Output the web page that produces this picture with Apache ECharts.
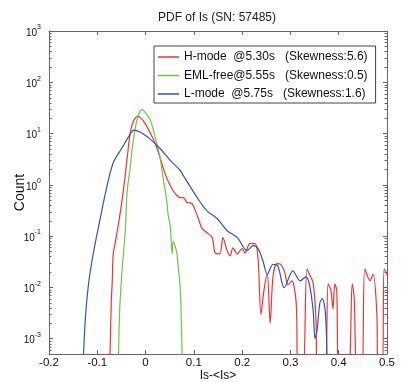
<!DOCTYPE html>
<html lang="en">
<head>
<meta charset="UTF-8">
<title>PDF of Is (SN: 57485)</title>
<script src="https://cdn.jsdelivr.net/npm/echarts@6/dist/echarts.min.js"></script>
<style>
    * { margin: 0; padding: 0; }
    body { background: #fff; }
    #paint { width: 401px; height: 382px; }
</style>
</head>
<body>
<div id="paint"></div>
<script>
    // legend names (spacing kept as in the figure)
    var seriesNames = [
        'H-mode  @5.30s   (Skewness:5.6)',
        'EML-free@5.55s   (Skewness:0.5)',
        'L-mode  @5.75s   (Skewness:1.6)'
    ];
    var seriesColors = ['#ee3333', '#6cc644', '#2f55b5'];

    // H-mode
    var hModeX = [-0.074, -0.073, -0.071, -0.069, -0.067, -0.061, -0.055, -0.046, -0.038, -0.032,
        -0.026, -0.017, -0.011, -0.001, 0.010, 0.020, 0.030, 0.040, 0.051, 0.061,
        0.072, 0.078, 0.086, 0.096, 0.107, 0.117, 0.127, 0.138, 0.144, 0.154,
        0.160, 0.169, 0.175, 0.181, 0.190, 0.200, 0.206, 0.216, 0.227, 0.233,
        0.239, 0.245, 0.252, 0.258, 0.264, 0.272, 0.280, 0.288, 0.295, 0.303,
        0.312, 0.316, 0.326, 0.334, 0.340, 0.347, 0.353, 0.355, 0.371, 0.378,
        0.384, 0.388, 0.392, 0.396, 0.400, 0.419, 0.428, 0.432, 0.438, 0.448,
        0.454, 0.465, 0.471, 0.479, 0.481, 0.490, 0.494, 0.500];
    var hModeY = [0.0004, 0.0009, 0.0053, 0.013, 0.044, 0.093, 0.20, 0.77, 3.4, 10.1,
        16.6, 21.7, 20.7, 15.8, 10.1, 6.4, 3.4, 1.67, 0.97, 0.68,
        0.56, 0.56, 0.45, 0.43, 0.25, 0.14, 0.117, 0.093, 0.047, 0.045,
        0.093, 0.052, 0.041, 0.059, 0.045, 0.057, 0.047, 0.071, 0.071, 0.036,
        0.0030, 0.0085, 0.018, 0.0020, 0.0168, 0.029, 0.028, 0.020, 0.0112, 0.0134,
        0.0048, 0.0002, 0.0002, 0.023, 0.0175, 0.0122, 0.0022, 0.0002, 0.0002, 0.0117,
        0.0085, 0.0038, 0.0117, 0.0085, 0.0002, 0.0002, 0.0117, 0.0063, 0.0002, 0.0002,
        0.023, 0.0134, 0.018, 0.0030, 0.0002, 0.0002, 0.023, 0.018];

    // EML-free
    var emlX = [-0.056, -0.055, -0.053, -0.048, -0.042, -0.038, -0.032, -0.028, -0.021, -0.015,
        -0.007, -0.001, 0.010, 0.020, 0.030, 0.036, 0.043, 0.047, 0.051, 0.053,
        0.055, 0.057, 0.061, 0.065, 0.067, 0.072, 0.074, 0.076];
    var emlY = [0.0004, 0.0014, 0.0048, 0.026, 0.127, 0.77, 2.1, 4.7, 13.2, 22.7,
        29.7, 26, 18.1, 8.4, 3.4, 1.39, 0.56, 0.25, 0.16, 0.081,
        0.045, 0.078, 0.065, 0.045, 0.029, 0.0087, 0.0022, 0.0004];

    // L-mode
    var lModeX = [-0.129, -0.125, -0.119, -0.111, -0.102, -0.092, -0.082, -0.067, -0.048, -0.036,
        -0.024, -0.015, -0.007, 0.010, 0.030, 0.051, 0.072, 0.078, 0.107, 0.127,
        0.148, 0.169, 0.190, 0.210, 0.223, 0.233, 0.243, 0.252, 0.264, 0.274,
        0.287, 0.305, 0.320, 0.332, 0.340, 0.347, 0.351, 0.355, 0.361, 0.366,
        0.372, 0.376];
    var lModeY = [0.0004, 0.0022, 0.0098, 0.033, 0.093, 0.27, 0.77, 2.7, 5.4, 8.4,
        11.6, 11.0, 10.1, 7.7, 5.1, 3.0, 1.9, 1.52, 0.56, 0.31,
        0.22, 0.127, 0.093, 0.052, 0.065, 0.057, 0.033, 0.018, 0.028, 0.026,
        0.0098, 0.021, 0.0134, 0.016, 0.0107, 0.0035, 0.0010, 0.0014, 0.0050, 0.0060,
        0.0035, 0.0004];

    // axes
    var xMin = -0.2, xMax = 0.5, xStep = 0.1;
    var yMin = 5e-4, yMax = 1e3;
    var minorMantissa = [2, 3, 4, 5, 6, 7, 8, 9];
    var decades = [-4, -3, -2, -1, 0, 1, 2];

    var font = 'Liberation Sans, Arial, sans-serif';
    var axisGrey = '#666';

    function pairs(xs, ys) {
        var out = [];
        for (var i = 0; i < xs.length; i++) out.push([xs[i], ys[i]]);
        return out;
    }

    var minorTicks = [];
    decades.forEach(function (d) {
        minorMantissa.forEach(function (m) {
            var v = m * Math.pow(10, d);
            if (v > yMin && v < yMax) minorTicks.push([0, v]);
        });
    });

    function renderMinor(params, api) {
        var cs = params.coordSys;
        var y = Math.round(api.coord([api.value(0), api.value(1)])[1]) + 0.5;
        return {
            type: 'group',
            children: [
                { type: 'line', shape: { x1: cs.x, y1: y, x2: cs.x + 2.5, y2: y }, style: { stroke: axisGrey, lineWidth: 1 } },
                { type: 'line', shape: { x1: cs.x + cs.width, y1: y, x2: cs.x + cs.width - 2.5, y2: y }, style: { stroke: axisGrey, lineWidth: 1 } }
            ]
        };
    }

    function logLabel(v) {
        var e = Math.log10(v);
        var r = Math.round(e);
        if (Math.abs(e - r) > 1e-6) return '';
        return '{b|10}{e|' + r + '}';
    }

    var yAxisBase = {
        type: 'log',
        logBase: 10,
        min: yMin,
        max: yMax,
        axisLine: { show: true, onZero: false, lineStyle: { color: axisGrey } },
        axisTick: { show: true, inside: true, length: 4, lineStyle: { color: axisGrey } },
        splitLine: { show: false }
    };

    var lineSeries = [
        { name: seriesNames[0], data: pairs(hModeX, hModeY), color: seriesColors[0] },
        { name: seriesNames[1], data: pairs(emlX, emlY), color: seriesColors[1] },
        { name: seriesNames[2], data: pairs(lModeX, lModeY), color: seriesColors[2] }
    ].map(function (s) {
        return {
            name: s.name,
            type: 'line',
            data: s.data,
            showSymbol: false,
            smooth: 0.3,
            clip: true,
            xAxisIndex: 0,
            yAxisIndex: 0,
            itemStyle: { color: s.color },
            lineStyle: { color: s.color, width: 1.2 }
        };
    });

    var mychart = echarts.init(document.getElementById('paint'));

    var option = {
        animation: false,
        backgroundColor: '#fff',
        textStyle: { fontFamily: font },
        title: {
            text: 'PDF of Is (SN: 57485)',
            left: 158,
            top: 12,
            padding: 0,
            textStyle: { fontSize: 12, fontWeight: 'normal', color: '#222', fontFamily: font }
        },
        grid: {
            left: 49,
            right: 14,
            top: 31,
            bottom: 28,
            containLabel: false,
            outerBoundsMode: 'none'
        },
        legend: {
            data: seriesNames,
            orient: 'vertical',
            left: 154,
            top: 46,
            padding: [4, 8, 2, 4],
            backgroundColor: '#fff',
            borderColor: '#444',
            borderWidth: 1,
            borderRadius: 0,
            icon: 'rect',
            itemWidth: 21,
            itemHeight: 1.5,
            itemGap: 4.5,
            textStyle: { fontSize: 12, color: '#111', fontFamily: font, lineHeight: 14 }
        },
        xAxis: [{
            type: 'value',
            min: xMin,
            max: xMax,
            interval: xStep,
            name: 'Is-<Is>',
            nameLocation: 'middle',
            nameGap: 16,
            nameMoveOverlap: false,
            nameTextStyle: { fontSize: 12, color: '#111', fontFamily: font },
            axisLine: { show: true, onZero: false, lineStyle: { color: axisGrey } },
            axisTick: { show: true, inside: true, length: 4, lineStyle: { color: axisGrey } },
            axisLabel: {
                margin: 3,
                fontSize: 11.5,
                color: '#111',
                fontFamily: font,
                formatter: function (v) { return String(Math.round(v * 10) / 10); }
            },
            splitLine: { show: false }
        }, {
            type: 'value',
            position: 'top',
            min: xMin,
            max: xMax,
            interval: xStep,
            axisLine: { show: true, onZero: false, lineStyle: { color: axisGrey } },
            axisTick: { show: true, inside: true, length: 4, lineStyle: { color: axisGrey } },
            axisLabel: { show: false },
            splitLine: { show: false }
        }],
        yAxis: [Object.assign({}, yAxisBase, {
            name: 'Count',
            nameLocation: 'middle',
            nameGap: 22,
            nameMoveOverlap: false,
            nameTextStyle: { fontSize: 14, color: '#111', fontFamily: font },
            axisLabel: {
                margin: 8,
                formatter: logLabel,
                rich: {
                    b: { fontSize: 10, color: '#111', fontFamily: font, lineHeight: 14, verticalAlign: 'bottom' },
                    e: { fontSize: 7, color: '#111', fontFamily: font, lineHeight: 8, verticalAlign: 'top' }
                }
            }
        }), Object.assign({}, yAxisBase, {
            position: 'right',
            axisLabel: { show: false }
        })],
        series: lineSeries.concat([{
            type: 'custom',
            name: 'minor',
            silent: true,
            xAxisIndex: 0,
            yAxisIndex: 0,
            renderItem: renderMinor,
            data: minorTicks,
            clip: false
        }])
    };
    mychart.setOption(option);
</script>
</body>
</html>
